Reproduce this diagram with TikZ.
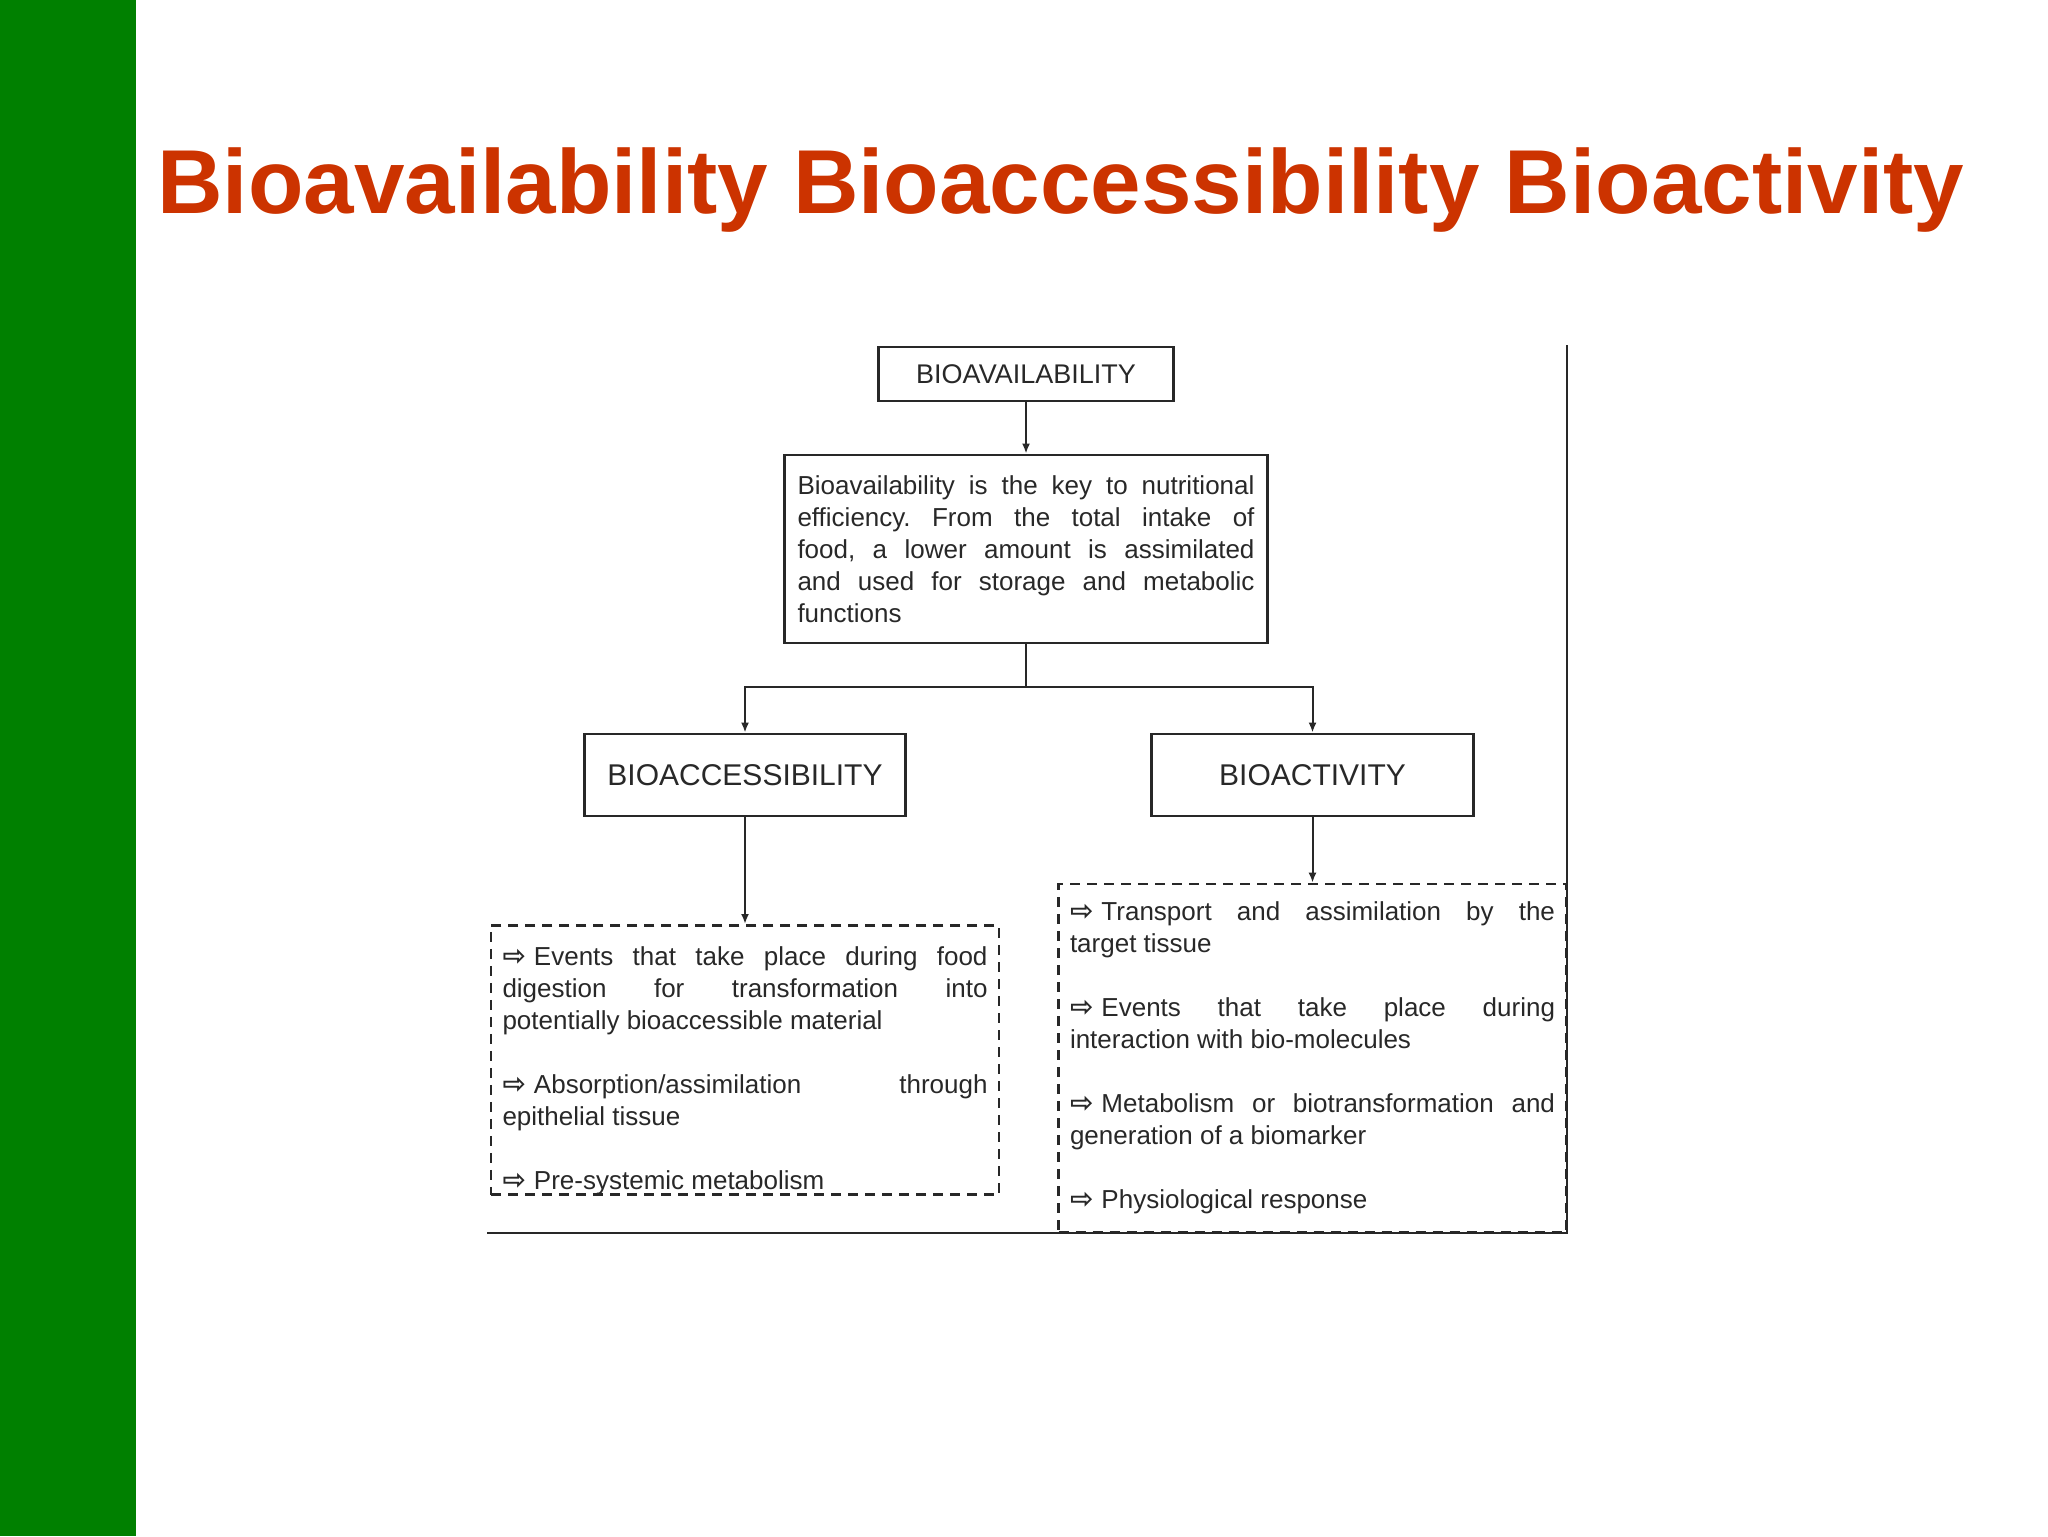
\documentclass[tikz,border=0pt]{standalone}
\usepackage{fontspec}
\setmainfont{Liberation Sans}
\newfontfamily\arrowfont{DejaVu Sans}
\usetikzlibrary{arrows.meta}
\definecolor{slidegreen}{RGB}{0,128,0}
\definecolor{titlered}{RGB}{204,51,0}
\definecolor{scan}{RGB}{40,40,40}
\newcommand{\itemarrow}{{\arrowfont\bfseries\fontsize{14}{16}\selectfont ⇨}\kern 4pt}
\tikzset{
  BoxStyle/.style = { rectangle, draw = scan, line width = 1.4pt,
                      text = scan, inner sep = 0pt },
  ListStyle/.style = { rectangle, draw = scan, line width = 1.3pt,
                       dash pattern = on 5pt off 3.5pt, text = scan,
                       align = justify, inner ysep = 0pt,
                       font = \fontsize{13}{16}\selectfont,
                       execute at begin node = {\hyphenpenalty=10000\frenchspacing} },
  EdgeStyle/.style = { draw = scan, line width = 1pt,
                       -{Latex[length=5pt,width=4pt]} } }

\begin{document}
\begin{tikzpicture}[x=0.5pt,y=-0.5pt]
  \useasboundingbox (0,0) rectangle (2048,1536);
  \fill[slidegreen] (0,0) rectangle (136,1536);
  \node[anchor = base west, inner sep = 0pt, text = titlered,
        font = \fontsize{45.4}{50}\selectfont\bfseries]
    (title) at (157,213) {Bioavailability Bioaccessibility Bioactivity};

  \node[BoxStyle, minimum width = 147.5pt, minimum height = 27pt,
        font = \fontsize{13.5}{16}\selectfont] (avail) at (1026,374) {BIOAVAILABILITY};
  \node[BoxStyle, text width = 228.5pt, inner xsep = 6.5pt, minimum height = 94pt,
        align = justify, font = \fontsize{13}{16}\selectfont,
        execute at begin node = {\hyphenpenalty=10000\frenchspacing}] (def) at (1026,549)
    {Bioavailability is the key to nutritional\linebreak
     efficiency. From the total intake of\linebreak
     food, a lower amount is assimilated\linebreak
     and used for storage and metabolic\linebreak
     functions};

  \node[BoxStyle, minimum width = 160.5pt, minimum height = 41pt,
        font = \fontsize{15}{18}\selectfont] (access) at (745,775) {BIOACCESSIBILITY};
  \node[BoxStyle, minimum width = 161pt, minimum height = 41pt,
        font = \fontsize{15}{18}\selectfont] (activ) at (1312.5,775) {BIOACTIVITY};

  \node[ListStyle, text width = 242.5pt, inner xsep = 5.75pt, minimum height = 134pt]
    (accesslist) at (745,1060)
    {\rule{0pt}{20pt}\itemarrow Events that take place during food\linebreak
     digestion for transformation into\linebreak
     potentially bioaccessible material\par\vspace{16pt}
     \itemarrow Absorption/assimilation through\linebreak
     epithelial tissue\par\vspace{16pt}
     \itemarrow Pre-systemic metabolism};
  \node[ListStyle, text width = 242.5pt, inner xsep = 5.75pt, minimum height = 174pt]
    (activlist) at (1312.5,1058)
    {\itemarrow Transport and assimilation by the\linebreak
     target tissue\par\vspace{16pt}
     \itemarrow Events that take place during\linebreak
     interaction with bio-molecules\par\vspace{16pt}
     \itemarrow Metabolism or biotransformation and\linebreak
     generation of a biomarker\par\vspace{16pt}
     \itemarrow Physiological response};

  \coordinate (fork) at (1026,687);
  \draw[EdgeStyle] (avail) -- (def);
  \draw[draw = scan, line width = 1pt] (def) -- (fork);
  \draw[EdgeStyle] (fork) -| (access);
  \draw[EdgeStyle] (fork) -| (activ);
  \draw[EdgeStyle] (access) -- (accesslist);
  \draw[EdgeStyle] (activ) -- (activlist);

  % frame of the scanned figure
  \draw[scan, line width = 1pt] (1567,345) -- (1567,1233) -- (487,1233);
\end{tikzpicture}
\end{document}
